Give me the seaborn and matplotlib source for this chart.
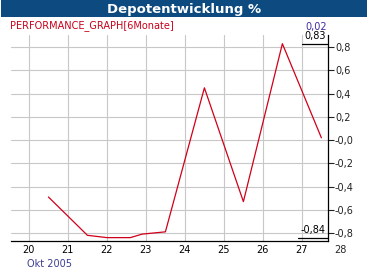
import matplotlib
matplotlib.use("Agg")
import matplotlib.pyplot as plt
import seaborn as sns
import pandas as pd

# data
days = [20.5, 21.5, 22.0, 22.6, 22.9, 23.5, 24.5, 25.5, 26.5, 27.5]
perf = [-0.49, -0.82, -0.84, -0.84, -0.81, -0.79, 0.45, -0.53, 0.83, 0.02]
x_ticks = [20, 21, 22, 23, 24, 25, 26, 27, 28]
y_ticks = [-0.8, -0.6, -0.4, -0.2, 0.0, 0.2, 0.4, 0.6, 0.8]
y_labels = ["-0,8", "-0,6", "-0,4", "-0,2", "-0,0", "0,2", "0,4", "0,6", "0,8"]
title = "Depotentwicklung %"
series_name = "PERFORMANCE_GRAPH[6Monate]"
last_label = "0,02"
max_label = "0,83"
min_label = "-0,84"
month_label = "Okt 2005"

df = pd.DataFrame({"day": days, "perf": perf})

sns.set_style("white")
plt.rcParams["font.family"] = ["DejaVu Sans"]

W, H = 369, 276
fig = plt.figure(figsize=(W / 100, H / 100), dpi=100)
fig.patch.set_facecolor("white")

# title bar
bar = fig.add_axes([1 / W, 1 - 17 / H, 366 / W, 17 / H])
bar.set_facecolor("#0c4a80")
bar.set_xticks([]); bar.set_yticks([])
for s in bar.spines.values():
    s.set_visible(False)
bar.text(0.5, 0.45, title, color="white", fontsize=9.5, fontweight="bold",
         ha="center", va="center", transform=bar.transAxes)

left, right, bottom, top = 11, 328, 241, 35
ax = fig.add_axes([left / W, 1 - bottom / H, (right - left) / W, (bottom - top) / H])
ax.set_facecolor("white")

sns.lineplot(data=df, x="day", y="perf", ax=ax, color="#d0001a", linewidth=0.9,
             estimator=None, sort=False)

xmax = 27.67
ax.set_xlim(19.54, xmax)
ax.set_ylim(-0.869, 0.905)
ax.set_xticks(x_ticks[:-1])
ax.set_xticklabels([str(t) for t in x_ticks[:-1]])
ax.set_yticks(y_ticks)
ax.set_yticklabels(y_labels)
ax.grid(True, color="#c8c8c8", linewidth=0.8)
ax.set_xlabel(""); ax.set_ylabel("")

for s in ["left", "top"]:
    ax.spines[s].set_visible(False)
for s in ["right", "bottom"]:
    ax.spines[s].set_color("black")
    ax.spines[s].set_linewidth(0.9)

ax.yaxis.tick_right()
ax.tick_params(axis="y", direction="out", length=4, width=0.8, pad=1,
               labelsize=7, colors="#222222", right=True, left=False)
ax.tick_params(axis="x", length=0, pad=3, labelsize=7, colors="black")

# extra x tick label beyond the axis end
ax.annotate(str(x_ticks[-1]), xy=(x_ticks[-1], 0), xycoords=ax.get_xaxis_transform(),
            xytext=(0, -3), textcoords="offset points", fontsize=7,
            ha="center", va="top", annotation_clip=False)

ax.annotate(month_label, xy=(x_ticks[0], 0), xycoords=ax.get_xaxis_transform(),
            xytext=(-1.5, -13), textcoords="offset points", fontsize=7,
            color="#3c3c96", ha="left", va="top", annotation_clip=False)

# series name and last value
fig.text(10 / W, 1 - 26 / H, series_name, fontsize=7, color="#c8001a",
         ha="left", va="center")
fig.text(327 / W, 1 - 27 / H, last_label, fontsize=7, color="#3c2ca0",
         ha="right", va="center")

# max / min markers
max_y = max(perf)
min_y = min(perf)
ax.plot([27.0, xmax], [max_y, max_y], color="black", linewidth=0.9, clip_on=False)
ax.annotate(max_label, xy=(xmax, max_y), xytext=(-1.5, 2), textcoords="offset points",
            fontsize=7, ha="right", va="bottom", color="black", annotation_clip=False)
ax.plot([26.9, xmax], [min_y, min_y], color="black", linewidth=0.9, clip_on=False)
ax.annotate(min_label, xy=(xmax, min_y), xytext=(-2, 2), textcoords="offset points",
            fontsize=7, ha="right", va="bottom", color="black", annotation_clip=False)

fig.savefig("out.png", dpi=100, facecolor="white")
